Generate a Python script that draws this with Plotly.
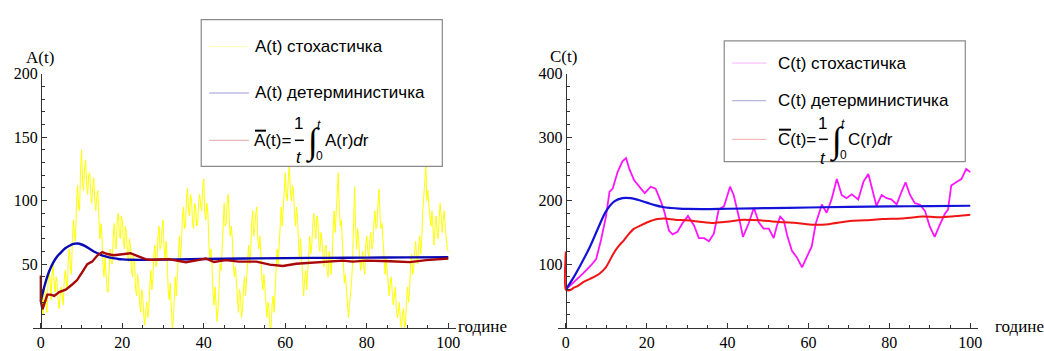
import plotly.graph_objects as go

W, H = 1044, 351

# ---------------- data ----------------
a_stoch = [40, 18, 10, 30, 28, 20, 12, 35, 45, 38, 22, 42, 50, 35, 28, 40, 35, 22, 15, 26,
           32, 25, 18, 38, 45, 36, 30, 55, 62, 48, 42, 70, 85, 72, 68, 98, 112, 95, 92, 125,
           140, 115, 108, 126, 132, 112, 105, 120, 122, 105, 98, 112, 118, 100, 92, 104, 108, 85, 70, 82,
           72, 50, 40, 55, 42, 30, 28, 48, 62, 52, 50, 70, 82, 68, 62, 85, 90, 75, 70, 88,
           85, 68, 62, 80, 75, 58, 52, 70, 65, 45, 40, 58, 52, 30, 25, 42, 35, 20, 12, 30,
           25, 10, 2, 14, 20, 8, 15, 32, 45, 30, 38, 58, 65, 48, 52, 72, 80, 62, 65, 78,
           85, 62, 55, 68, 55, 30, 22, 35, 18, 0, 5, 28, 40, 25, 38, 60, 72, 55, 65, 88,
           95, 78, 80, 102, 110, 92, 88, 105, 100, 82, 78, 98, 95, 80, 82, 100, 105, 95, 92, 112,
           117, 90, 85, 98, 90, 65, 55, 62, 50, 28, 18, 32, 20, 5, 15, 38, 50, 45, 62, 85,
           98, 80, 82, 100, 105, 85, 72, 80, 70, 50, 40, 48, 35, 18, 12, 30, 25, 8, 15, 32,
           40, 25, 38, 55, 65, 50, 60, 82, 92, 72, 78, 90, 95, 70, 62, 72, 60, 38, 30, 42,
           30, 12, 8, 20, 15, 0, 0, 18, 25, 12, 28, 48, 62, 50, 65, 85, 95, 80, 95, 112,
           122, 105, 100, 118, 128, 108, 100, 112, 108, 90, 80, 95, 88, 65, 55, 70, 55, 35, 25, 38,
           45, 30, 42, 60, 72, 58, 65, 82, 90, 78, 70, 88, 85, 65, 60, 75, 70, 55, 48, 62,
           65, 45, 40, 60, 55, 42, 55, 78, 92, 75, 88, 108, 122, 95, 80, 85, 70, 48, 35, 42,
           30, 15, 8, 18, 25, 35, 50, 85, 111, 80, 62, 78, 70, 55, 45, 52, 60, 48, 42, 65,
           72, 60, 55, 70, 75, 62, 65, 82, 92, 78, 80, 98, 109, 88, 78, 82, 70, 55, 42, 55,
           45, 30, 25, 35, 40, 28, 18, 25, 32, 15, 8, 12, 20, 5, 0, 10, 15, 0, 2, 22,
           32, 20, 30, 48, 58, 42, 45, 60, 68, 55, 50, 65, 72, 58, 70, 92, 105, 112, 128, 100,
           108, 95, 85, 80, 92, 78, 65, 80, 88, 75, 70, 85, 98, 88, 75, 85, 92, 80, 68, 62,
           60]
t_stoch = [100 * i / (len(a_stoch) - 1) for i in range(len(a_stoch))]

a_det_t = [0, 1, 2, 3, 4, 5, 6, 7, 8, 9, 10, 11, 12, 13, 14, 15, 16, 17, 18, 19, 20, 22, 24, 26,
           30, 40, 50, 60, 70, 80, 90, 100]
a_det = [21, 34, 44, 51, 56, 59.5, 62.5, 64.5, 66, 66.3, 65.5, 64, 62, 60, 58.5, 57, 56, 55.2,
         54.6, 54.1, 53.8, 53.5, 53.4, 53.4, 53.6, 54.1, 54.5, 54.8, 55.0, 55.2, 55.4, 55.5]

a_avg_t = [0, 0, 0.4, 1.0, 1.6, 2.4, 3.3, 4.5, 6.1, 7.7, 8.9, 10.2, 11.4, 12.6, 13.9, 15.1, 16.3,
           17.9, 20.0, 22.0, 24.1, 25.7, 27, 30, 31.5, 33, 35.6, 38.9, 40.5, 42.5, 45.4, 48.6,
           52.9, 56.2, 59.4, 62.7, 66.8, 70, 74.1, 76.5, 80, 85.7, 90.6, 94.6, 100]
a_avg = [41, 21, 14.5, 20, 26, 26, 25, 28, 30, 34, 37.5, 44, 50, 52, 57, 59.5, 58, 57, 58, 58.6,
         56, 54, 53.5, 53.8, 54, 53, 51.5, 53.4, 54.5, 51.7, 53.2, 52, 52, 49.6, 48.6, 50.3, 51,
         51.6, 52.8, 52, 52.8, 52.3, 51.6, 53.2, 54.5]

c_stoch_t = [0, 2.1, 4.2, 6.2, 7.5, 8.7, 9.9, 10.8, 11.6, 12.8, 14.0, 14.9, 15.7, 16.9, 18.1,
             19.5, 21.0, 22.2, 23.5, 24.3, 25.5, 26.4, 27.6, 28.8, 30.2, 31.7, 32.9, 34.2, 35.4,
             36.6, 37.8, 39.1, 40.6, 41.5, 42.8, 43.8, 45.2, 46.5, 47.7, 48.9, 50.2, 51.4, 52.2,
             53.0, 53.9, 54.7, 55.9, 57.1, 58.4, 59.6, 60.8, 61.8, 63.3, 64.5, 65.7, 67.0, 68.2,
             69.4, 70.7, 72.3, 73.6, 74.8, 76.0, 76.8, 78.1, 79.3, 80.5, 81.8, 83.0, 84.0, 85.1,
             86.3, 87.5, 88.8, 90.0, 91.2, 92.4, 93.7, 94.5, 95.3, 96.5, 97.8, 99.0, 100]
c_stoch = [60, 72, 85, 98, 108, 138, 174, 214, 219, 245, 262, 267, 250, 232, 222, 212, 222, 219,
           199, 184, 153, 147, 151, 164, 176, 161, 141, 141, 136, 148, 186, 191, 222, 209, 174,
           143, 164, 189, 166, 156, 156, 141, 161, 175, 169, 146, 121, 111, 95, 111, 128, 164,
           194, 181, 202, 234, 209, 204, 210, 202, 230, 242, 214, 192, 209, 204, 202, 194, 214,
           229, 209, 196, 194, 184, 159, 143, 161, 179, 186, 224, 229, 234, 250, 245]

c_det_t = [0, 2, 4, 6, 8, 10, 12, 14, 16, 18, 20, 22, 24, 26, 28, 30, 35, 40, 50, 60, 70, 80, 90, 100]
c_det = [60, 80, 103, 128, 157, 184, 199, 204, 204, 201, 197, 193, 190, 188.5, 187.5, 187, 186.8,
         187.3, 188.3, 189.3, 190.3, 191, 191.5, 192]

c_avg_t = [0, 0, 1, 2, 3, 4.5, 6, 7, 8.3, 9.9, 11.9, 13, 14.4, 15.5, 16.9, 18.5, 20.2, 22.6, 24.5,
           27, 30, 33, 36.5, 40, 43.9, 48, 53.7, 57, 61.2, 65, 70.2, 74, 78.4, 83, 88.3, 93.2, 97, 100]
c_avg = [120, 60, 59, 63, 66, 72.5, 77, 80, 85, 95, 118, 128, 138, 147, 156, 161, 166, 171, 172,
         170, 169, 167, 165, 167, 170, 169, 166, 165, 162, 163, 168, 169, 171, 172, 175, 174, 176, 178]

x_ticks = [0, 20, 40, 60, 80, 100]
a_yticks = [50, 100, 150, 200]
c_yticks = [100, 200, 300, 400]


def px(x):
    return x / W


def py(y):
    return 1 - y / H


fig = go.Figure()
fig.add_trace(go.Scatter(x=t_stoch, y=a_stoch, mode="lines", line=dict(color="#ffff00", width=1),
                         xaxis="x", yaxis="y", showlegend=False))
fig.add_trace(go.Scatter(x=a_det_t, y=a_det, mode="lines", line=dict(color="#0a0ab4", width=2.4, shape="spline"),
                         xaxis="x", yaxis="y", showlegend=False))
fig.add_trace(go.Scatter(x=a_avg_t, y=a_avg, mode="lines", line=dict(color="#a80808", width=2.4),
                         xaxis="x", yaxis="y", showlegend=False))
fig.add_trace(go.Scatter(x=c_stoch_t, y=c_stoch, mode="lines", line=dict(color="#ff14ff", width=1.8),
                         xaxis="x2", yaxis="y2", showlegend=False))
fig.add_trace(go.Scatter(x=c_det_t, y=c_det, mode="lines", line=dict(color="#1212d8", width=2.2, shape="spline"),
                         xaxis="x2", yaxis="y2", showlegend=False))
fig.add_trace(go.Scatter(x=c_avg_t, y=c_avg, mode="lines", line=dict(color="#f01414", width=2.0, shape="spline", smoothing=0.6),
                         xaxis="x2", yaxis="y2", showlegend=False))

serif = "Liberation Serif"
sans = "Liberation Sans"
tickfont = dict(family=serif, size=16, color="black")


def xaxis_cfg(p0, p100):
    s = (p100 - p0) / 100
    return dict(range=[-2, 102], domain=[px(p0 - 2 * s), px(p100 + 2 * s)],
                tickvals=x_ticks, ticks="inside", ticklen=5, tickcolor="#333",
                showline=True, linecolor="#333", linewidth=1, showgrid=False, zeroline=False,
                tickfont=tickfont,
                minor=dict(dtick=5, tick0=0, ticks="inside", ticklen=3, tickcolor="#333"))


def yaxis_cfg(rng, ticks, minor, xpos):
    return dict(range=rng, domain=[py(331), py(68)], tickvals=ticks, ticks="inside", ticklen=5,
                tickcolor="#333", showline=True, linecolor="#333", linewidth=1, showgrid=False,
                zeroline=False, tickfont=tickfont, anchor="free", position=px(xpos),
                minor=dict(dtick=minor, tick0=0, ticks="inside", ticklen=3, tickcolor="#333"))


fig.update_layout(
    width=W, height=H, autosize=False, margin=dict(l=0, r=0, t=0, b=0),
    paper_bgcolor="white", plot_bgcolor="white",
    xaxis=dict(anchor="y", **xaxis_cfg(41, 450)),
    yaxis=yaxis_cfg([0, 200], a_yticks, 10, 41),
    xaxis2=dict(anchor="y2", **xaxis_cfg(568, 974)),
    yaxis2=yaxis_cfg([0, 400], c_yticks, 20, 568),
)

shapes = []
annots = []


def txt(x, y, s, size=17, fam=sans, xa="left", ya="middle"):
    annots.append(dict(x=px(x), y=py(y), xref="paper", yref="paper", text=s, showarrow=False,
                       xanchor=xa, yanchor=ya, font=dict(family=fam, size=size, color="black"),
                       borderpad=0))


def pline(x0, y0, x1, y1, color, width=1):
    shapes.append(dict(type="line", xref="paper", yref="paper", x0=px(x0), y0=py(y0), x1=px(x1),
                       y1=py(y1), line=dict(color=color, width=width), layer="above"))


# axis labels
txt(40, 51, "A(t)", 17, serif, "center")
txt(566, 50, "C(t)", 17, serif, "center")
txt(459, 330, "године", 17, serif, "left")
txt(998, 330, "године", 17, serif, "left")

# legend boxes
for (x0, y0, x1, y1) in [(202, 12, 444, 164), (727, 34, 969, 159)]:
    shapes.append(dict(type="rect", xref="paper", yref="paper", x0=px(x0), y0=py(y1), x1=px(x1),
                       y1=py(y0), line=dict(color="#8a8a8a", width=1.2), fillcolor="white", layer="above"))

# left legend
pline(210, 40, 250, 40, "#ffffb0")
pline(210, 88, 250, 88, "#9a9ad8")
pline(210, 137, 250, 137, "#e0a8a8")
txt(255, 40, "A(t) стохастичка")
txt(255, 88, "A(t) детерминистичка")
txt(254, 137, "A(t)=")
pline(256, 127, 267, 127, "black", 2)
txt(300, 120, "1", 17, sans, "center")
pline(296, 137, 305, 137, "black", 1.5)
txt(300, 155, "<i>t</i>", 17, sans, "center")
txt(314, 139, "<i>∫</i>", 36, serif, "center")
txt(320, 121, "<i>t</i>", 12, sans, "center")
txt(321, 153, "0", 12, sans, "center")
txt(325, 137, "A(r)<i>d</i>r")

# right legend
pline(735, 57, 769, 57, "#f5b4f5")
pline(735, 96, 769, 96, "#a4a4d8")
pline(735, 136, 769, 136, "#f2aaaa")
txt(780, 57, "C(t) стохастичка")
txt(780, 96, "C(t) детерминистичка")
txt(780, 136, "C(t)=")
pline(782, 126, 794, 126, "black", 2)
txt(826, 120, "1", 17, sans, "center")
pline(822, 136, 831, 136, "black", 1.5)
txt(826, 156, "<i>t</i>", 17, sans, "center")
txt(840, 138, "<i>∫</i>", 36, serif, "center")
txt(846, 120, "<i>t</i>", 12, sans, "center")
txt(847, 152, "0", 12, sans, "center")
txt(850, 136, "C(r)<i>d</i>r")

fig.update_layout(shapes=shapes, annotations=annots)
fig.write_html("out.html")
